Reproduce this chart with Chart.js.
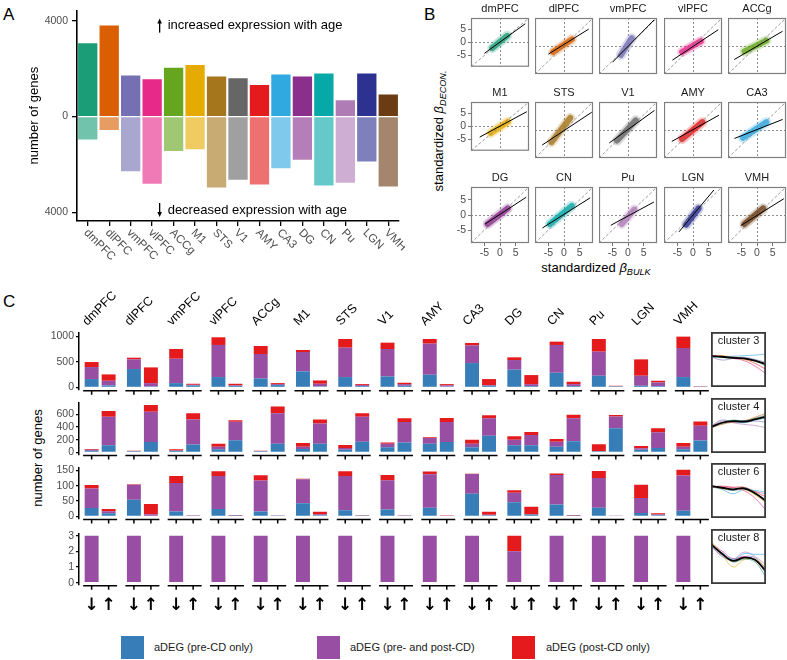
<!DOCTYPE html>
<html>
<head>
<meta charset="utf-8">
<script src="https://cdn.jsdelivr.net/npm/chart.js@4.4.1/dist/chart.umd.min.js"></script>
<style>
  body { margin: 0; background: #fff; font-family: "Liberation Sans", Arial, sans-serif; }
  #wrap { position: relative; width: 787px; height: 660px; overflow: hidden; }
  canvas { position: absolute; }
  .txt { position: absolute; white-space: nowrap; color: #000; line-height: 1; }
  .panel { font-size: 17px; }
  .rot { transform: translate(-50%, -50%) rotate(-90deg); }
  .mid { transform: translate(-50%, -50%); }
  .key { position: absolute; width: 23px; height: 23px; }
  .keytxt { position: absolute; font-size: 11px; color: #1a1a1a; line-height: 1; transform: translateY(-50%); white-space: nowrap; }
  sub { font-size: 70%; font-style: italic; vertical-align: -0.3em; }
</style>
</head>
<body>
<div id="wrap">
  <div class="txt panel" style="left:3px; top:6px;">A</div>
  <div class="txt panel" style="left:424px; top:6px;">B</div>
  <div class="txt panel" style="left:3px; top:293px;">C</div>

  <div class="txt rot" style="left:440px; top:131px; font-size:13px;">standardized <i>β</i><sub>DECON.</sub></div>
  <div class="txt mid" style="left:596px; top:269px; font-size:13px;">standardized <i>β</i><sub>BULK</sub></div>
  <div class="txt rot" style="left:37px; top:458px; font-size:13px;">number of genes</div>

  <div class="key" style="left:121px; top:636px; background:#377eb8;"></div>
  <div class="keytxt" style="left:154px; top:647px;">aDEG (pre-CD only)</div>
  <div class="key" style="left:317px; top:636px; background:#984ea3;"></div>
  <div class="keytxt" style="left:350px; top:647px;">aDEG (pre- and post-CD)</div>
  <div class="key" style="left:512px; top:636px; background:#e41a1c;"></div>
  <div class="keytxt" style="left:546px; top:647px;">aDEG (post-CD only)</div>
</div>
<script>
// regions and their colours
const regions = ["dmPFC", "dlPFC", "vmPFC", "vlPFC", "ACCg", "M1", "STS", "V1", "AMY", "CA3", "DG", "CN", "Pu", "LGN", "VMH"];
const regionColors = ["#1b9e77", "#d95f02", "#7570b3", "#e7298a", "#66a61e", "#e6ab02", "#a6761d", "#666666",
                      "#e41a1c", "#30a8e0", "#8a2f8c", "#06a8a8", "#b07cb6", "#2d3291", "#6b3c14"];

// panel A: genes up / down with age
const nUp   = [3060, 3800, 1720, 1560, 2040, 2160, 1680, 1600, 1320, 1760, 1680, 1800, 680, 1800, 920];
const nDown = [960, 560, 2280, 2800, 1440, 1360, 2960, 2640, 2840, 2160, 1800, 2880, 2760, 1880, 2920];
const aTicks = [-4000, 0, 4000];

// panel B: point cloud ends and fitted line ends, [x, y]
const cloudFrom = [[-2.5, -2.2], [-3.5, -2], [-2.3, -3], [-3.5, -2], [-4, -1.8], [-3, -2.6], [-4, -4], [-3.5, -3.5],
                   [-3.5, -3], [-4.5, -2.6], [-4, -3], [-4.5, -3], [-2, -3], [-2.2, -3.2], [-4, -3]];
const cloudTo   = [[2.3, 2.5], [2.5, 2.2], [1.2, 2.6], [2.5, 1.6], [3, 1.8], [2.5, 1.8], [2, 4], [2.5, 3.2],
                   [3, 2.6], [3, 2.6], [2.5, 2.2], [2.5, 3], [2, 1.8], [1.8, 2.2], [2, 2.2]];
const fitFrom   = [[-5, -4.2], [-5, -2.7], [-5, -5.4], [-6.6, -4.7], [-7.3, -4.5], [-6.5, -4.1], [-7, -5], [-6, -4.3],
                   [-6.8, -3.8], [-7.2, -2.8], [-4.8, -3], [-6.9, -4.3], [-5.5, -3.4], [-4.5, -5.6], [-5.2, -3.5]];
const fitTo     = [[8.1, 7.1], [7.9, 5.6], [8.4, 8.7], [8.1, 5.4], [8.2, 4.9], [8.6, 5.6], [8.9, 5.9], [8.5, 6.5],
                   [8.3, 4.9], [8.2, 3.5], [8.4, 5.9], [8.4, 5.7], [8.3, 4.3], [6.7, 8.3], [8.6, 5.4]];
const bTicks = [-5, 0, 5];

// panel C: aDEG counts, down (↓) and up (↑) with age
// cluster 3
const c3DownPre  = [164, 360, 85, 203, 177, 314, 203, 216, 249, 477, 347, 288, 229, 33, 203];
const c3DownBoth = [235, 189, 477, 628, 477, 379, 575, 536, 608, 347, 189, 543, 471, 196, 569];
const c3DownPost = [98, 33, 190, 150, 157, 39, 170, 124, 91, 46, 53, 65, 248, 320, 222];
const c3UpPre    = [39, 20, 39, 30, 46, 20, 26, 33, 20, 33, 26, 26, 20, 26, 10];
const c3UpBoth   = [92, 65, 13, 10, 19, 52, 20, 32, 19, 13, 39, 39, 6, 72, 5];
const c3UpPost   = [124, 307, 20, 32, 20, 65, 19, 27, 26, 118, 177, 46, 7, 33, 5];
// cluster 4
const c4DownPre  = [24, 15, 20, 49, 15, 54, 39, 78, 137, 78, 112, 88, 15, 39, 49];
const c4DownBoth = [15, 5, 9, 39, 5, 34, 29, 59, 87, 59, 88, 78, 5, 24, 39];
const c4DownPost = [15, 4, 20, 49, 4, 58, 49, 19, 15, 63, 54, 44, 107, 35, 58];
const c4UpPre    = [112, 161, 122, 190, 137, 137, 166, 156, 161, 263, 112, 176, 380, 68, 185];
const c4UpBoth   = [449, 479, 395, 293, 478, 317, 395, 322, 317, 274, 161, 361, 186, 249, 235];
const c4UpPost   = [93, 106, 100, 24, 108, 63, 54, 59, 63, 48, 49, 58, 24, 63, 68];
// cluster 6
const c6DownPre  = [27, 54, 16, 24, 16, 43, 20, 22, 28, 74, 46, 39, 28, 11, 18];
const c6DownBoth = [64, 49, 93, 108, 101, 78, 112, 96, 109, 64, 31, 96, 97, 49, 115];
const c6DownPost = [11, 2, 23, 15, 17, 2, 15, 17, 9, 1, 8, 5, 23, 43, 19];
const c6UpPre    = [10, 2, 2, 1, 3, 4, 1, 2, 0, 4, 6, 1, 2, 4, 0];
const c6UpBoth   = [7, 5, 2, 2, 1, 3, 1, 2, 1, 1, 0, 1, 1, 2, 0];
const c6UpPost   = [7, 33, 0, 1, 0, 8, 1, 0, 1, 10, 25, 2, 0, 4, 2];
// cluster 8
const c8DownPre  = [0, 0, 0, 0, 0, 0, 0, 0, 0, 0, 0, 0, 0, 0, 0];
const c8DownBoth = [3, 3, 3, 3, 3, 3, 3, 3, 3, 3, 2, 3, 3, 3, 3];
const c8DownPost = [0, 0, 0, 0, 0, 0, 0, 0, 0, 0, 1, 0, 0, 0, 0];
const c8UpPre    = [0, 0, 0, 0, 0, 0, 0, 0, 0, 0, 0, 0, 0, 0, 0];
const c8UpBoth   = [0, 0, 0, 0, 0, 0, 0, 0, 0, 0, 0, 0, 0, 0, 0];
const c8UpPost   = [0, 0, 0, 0, 0, 0, 0, 0, 0, 0, 0, 0, 0, 0, 0];

const rowTicks = [[0, 250, 500, 750, 1000], [0, 200, 400, 600], [0, 50, 100, 150], [0, 1, 2, 3]];
const rowLimits = [[-50, 1065], [-38, 790], [-7.6, 160], [-0.15, 3.15]];

// cluster trajectories (scaled expression across age)
const trajX = [0, 1, 2, 3, 4, 5];
const clusterNames = ["cluster 3", "cluster 4", "cluster 6", "cluster 8"];
const c3Mean = [0.56, 0.55, 0.53, 0.52, 0.48, 0.41];
const c3Lines = { vlPFC: [0.57, 0.56, 0.52, 0.48, 0.38, 0.24], CA3: [0.54, 0.55, 0.56, 0.57, 0.58, 0.60],
                  dmPFC: [0.58, 0.54, 0.52, 0.52, 0.47, 0.38], vmPFC: [0.55, 0.49, 0.52, 0.54, 0.50, 0.45],
                  M1: [0.56, 0.57, 0.54, 0.50, 0.47, 0.43], AMY: [0.57, 0.55, 0.55, 0.51, 0.43, 0.32] };
const c4Mean = [0.47, 0.55, 0.58, 0.57, 0.61, 0.66];
const c4Lines = { dlPFC: [0.46, 0.52, 0.56, 0.58, 0.65, 0.72], Pu: [0.48, 0.58, 0.55, 0.52, 0.50, 0.46],
                  CA3: [0.48, 0.53, 0.57, 0.55, 0.60, 0.63], dmPFC: [0.46, 0.54, 0.60, 0.58, 0.63, 0.69],
                  vmPFC: [0.49, 0.60, 0.56, 0.56, 0.58, 0.56], LGN: [0.47, 0.55, 0.58, 0.59, 0.62, 0.66] };
const c6Mean = [0.58, 0.55, 0.52, 0.54, 0.45, 0.31];
const c6Lines = { vlPFC: [0.56, 0.56, 0.55, 0.50, 0.36, 0.14], CA3: [0.57, 0.52, 0.44, 0.52, 0.50, 0.47],
                  dmPFC: [0.59, 0.55, 0.50, 0.55, 0.44, 0.33], M1: [0.57, 0.53, 0.52, 0.52, 0.42, 0.28],
                  AMY: [0.56, 0.58, 0.56, 0.56, 0.48, 0.38], Pu: [0.60, 0.54, 0.50, 0.52, 0.48, 0.44] };
const c8Mean = [0.72, 0.55, 0.42, 0.48, 0.44, 0.23];
const c8Lines = { CA3: [0.70, 0.57, 0.45, 0.55, 0.54, 0.54], M1: [0.78, 0.55, 0.31, 0.44, 0.45, 0.30],
                  Pu: [0.68, 0.52, 0.45, 0.58, 0.50, 0.35], vlPFC: [0.74, 0.60, 0.46, 0.50, 0.43, 0.20],
                  dmPFC: [0.75, 0.56, 0.40, 0.45, 0.40, 0.12], vmPFC: [0.70, 0.50, 0.43, 0.50, 0.48, 0.28] };

const setBlue = "#377eb8", setPurple = "#984ea3", setRed = "#e41a1c";

// chart defaults
Chart.defaults.font.family = "'Liberation Sans', Arial, sans-serif";
Chart.defaults.color = "#4d4d4d";
Chart.defaults.animation = false;
Chart.defaults.responsive = false;
Chart.defaults.devicePixelRatio = 1;
Chart.defaults.plugins.legend.display = false;
Chart.defaults.plugins.tooltip.enabled = false;

const wrap = document.getElementById("wrap");
function addCanvas(left, top, w, h) {
    let c = document.createElement("canvas");
    c.width = w; c.height = h;
    c.style.left = left + "px"; c.style.top = top + "px";
    c.style.width = w + "px"; c.style.height = h + "px";
    wrap.appendChild(c);
    return c.getContext("2d");
}
// lighten a hex colour towards white
function fade(hex, a) {
    let n = parseInt(hex.slice(1), 16);
    let mix = v => Math.round(v * a + 255 * (1 - a));
    return "rgb(" + mix(n >> 16) + "," + mix((n >> 8) & 255) + "," + mix(n & 255) + ")";
}
function alpha(hex, a) {
    let n = parseInt(hex.slice(1), 16);
    return "rgba(" + (n >> 16) + "," + ((n >> 8) & 255) + "," + (n & 255) + "," + a + ")";
}
const fixTicks = vals => scale => { scale.ticks = vals.map(v => ({ value: v })); };
const pt = p => ({ x: p[0], y: p[1] });

//---------------- panel A ----------------
const panelANotes = {
    id: "panelANotes",
    afterDraw(chart) {
        let { ctx, scales: { x, y } } = chart;
        ctx.save();
        // rotated region labels
        ctx.fillStyle = "#4d4d4d";
        ctx.font = "11.5px 'Liberation Sans', Arial, sans-serif";
        ctx.textAlign = "left";
        ctx.textBaseline = "middle";
        regions.forEach((r, i) => {
            ctx.save();
            ctx.translate(x.getPixelForValue(i) - 2, 231);
            ctx.rotate(Math.PI / 4);
            ctx.fillText(r, 0, 0);
            ctx.restore();
        });
        // arrows with notes
        let ax = x.getPixelForValue(3.35);
        let notes = [[y.getPixelForValue(3800), -1, "increased expression with age"],
                     [y.getPixelForValue(-3900), 1, "decreased expression with age"]];
        ctx.fillStyle = "#000";
        ctx.strokeStyle = "#000";
        ctx.lineWidth = 1.3;
        ctx.font = "13px 'Liberation Sans', Arial, sans-serif";
        notes.forEach(([yc, dir, text]) => {
            ctx.beginPath();
            ctx.moveTo(ax, yc - 7 * dir);
            ctx.lineTo(ax, yc + 3 * dir);
            ctx.stroke();
            ctx.beginPath();
            ctx.moveTo(ax, yc + 7 * dir);
            ctx.lineTo(ax - 2.3, yc + 2 * dir);
            ctx.lineTo(ax + 2.3, yc + 2 * dir);
            ctx.closePath();
            ctx.fill();
            ctx.fillText(text, ax + 8, yc);
        });
        ctx.restore();
    }
};

new Chart(addCanvas(0, 0, 405, 285), {
    type: "bar",
    data: {
        labels: regions,
        datasets: [
            { data: nUp, backgroundColor: regionColors },
            { data: nDown.map(v => -v), backgroundColor: regionColors.map(c => fade(c, 0.62)) }
        ]
    },
    options: {
        layout: { padding: { top: 1, right: 6, bottom: 0, left: 0 } },
        datasets: { bar: { categoryPercentage: 0.9, barPercentage: 1 } },
        scales: {
            x: {
                stacked: true,
                ticks: { display: false },
                grid: { drawOnChartArea: false, offset: false, tickLength: 5, color: "#000", lineWidth: 1.3 },
                border: { color: "#000", width: 1.6 },
                afterFit: s => { s.height = 64; }
            },
            y: {
                stacked: true, min: -4360, max: 4440,
                afterBuildTicks: fixTicks(aTicks),
                ticks: { callback: v => String(Math.abs(v)), font: { size: 10.5 }, padding: 4 },
                grid: { drawOnChartArea: false, tickLength: 5, color: "#000", lineWidth: 1.3 },
                border: { color: "#000", width: 1.6 },
                title: { display: true, text: "number of genes", color: "#000", font: { size: 13 }, padding: { top: 27, bottom: 0 } },
                afterFit: s => { s.width = 77; }
            }
        }
    },
    plugins: [panelANotes]
});

//---------------- panel B ----------------
// grey frame round the plot and the region name above it
const boxFrame = {
    id: "boxFrame",
    afterDatasetsDraw(chart, args, opts) {
        let { ctx, chartArea: a } = chart;
        ctx.save();
        ctx.strokeStyle = "#7f7f7f";
        ctx.lineWidth = 1.2;
        ctx.strokeRect(a.left + 0.5, a.top + 0.5, a.width - 1, a.height - 1);
        ctx.fillStyle = "#1a1a1a";
        ctx.font = "11px 'Liberation Sans', Arial, sans-serif";
        ctx.textAlign = "center";
        ctx.textBaseline = "middle";
        ctx.fillText(opts.name, (a.left + a.right) / 2, a.top - 9);
        ctx.restore();
    }
};
const zeroGrid = c => (c.tick && c.tick.value === 0) ? "#808080" : "rgba(0,0,0,0)";
const colL = [471, 535, 599, 664, 728];
const rowT = [18, 102, 187];
regions.forEach((name, i) => {
    let r = Math.floor(i / 5), c = i % 5;
    let yw = c === 0 ? 22 : 0, xh = r === 2 ? 14 : 0;
    let ctx = addCanvas(colL[c] - yw, rowT[r] - 17, 58 + yw + 1, 17 + 56 + xh + 1);
    let col = regionColors[i];
    new Chart(ctx, {
        type: "scatter",
        data: {
            datasets: [
                { data: [pt(fitFrom[i]), pt(fitTo[i])], showLine: true, borderColor: "#000", borderWidth: 1, pointRadius: 0 },
                { data: [pt([-9.3, -9.3]), pt([9.3, 9.3])], showLine: true, borderColor: "#808080", borderWidth: 0.8, borderDash: [3, 2], pointRadius: 0 },
                { data: [pt(cloudFrom[i]), pt(cloudTo[i])], showLine: true, borderColor: alpha(col, 0.8), borderWidth: 6, borderCapStyle: "round", pointRadius: 0 },
                { data: [pt(cloudFrom[i]), pt(cloudTo[i])], showLine: true, borderColor: alpha(col, 0.25), borderWidth: 10, borderCapStyle: "round", pointRadius: 0 }
            ]
        },
        options: {
            layout: { padding: { top: 17, right: 1, bottom: 1, left: 0 } },
            plugins: { boxFrame: { name: name } },
            scales: {
                x: {
                    min: -9.3, max: 9.3,
                    afterBuildTicks: fixTicks(bTicks),
                    ticks: { display: r === 2, font: { size: 10.5 }, padding: 1 },
                    grid: { color: zeroGrid, lineWidth: 0.9, drawTicks: r === 2, tickLength: 3, tickColor: "#666" },
                    border: { display: false, dash: [2, 2] },
                    afterFit: s => { s.height = xh; }
                },
                y: {
                    min: -9.3, max: 9.3,
                    afterBuildTicks: fixTicks(bTicks),
                    ticks: { display: c === 0, font: { size: 10.5 }, padding: 2 },
                    grid: { color: zeroGrid, lineWidth: 0.9, drawTicks: c === 0, tickLength: 3, tickColor: "#666" },
                    border: { display: false, dash: [2, 2] },
                    afterFit: s => { s.width = yw; }
                }
            }
        },
        plugins: [boxFrame]
    });
});

//---------------- panel C ----------------
const facetAxis = {
    id: "facetAxis",
    afterDraw(chart, args, opts) {
        let { ctx, chartArea: a, scales: { x } } = chart;
        let down = chart.getDatasetMeta(0).data, up = chart.getDatasetMeta(3).data;
        let half = x.width / regions.length * 0.804 / 2;
        let yb = a.bottom + 0.75;
        ctx.save();
        ctx.strokeStyle = "#000";
        ctx.lineWidth = 1.5;
        regions.forEach((r, i) => {
            let cx = x.getPixelForValue(i);
            ctx.beginPath();
            ctx.moveTo(cx - half, yb);
            ctx.lineTo(cx + half, yb);
            ctx.moveTo(down[i].x, yb);
            ctx.lineTo(down[i].x, yb + 4);
            ctx.moveTo(up[i].x, yb);
            ctx.lineTo(up[i].x, yb + 4);
            ctx.stroke();
        });
        ctx.fillStyle = "#000";
        if (opts.top) {
            ctx.font = "12.5px 'Liberation Sans', Arial, sans-serif";
            ctx.textAlign = "left";
            ctx.textBaseline = "alphabetic";
            regions.forEach((r, i) => {
                ctx.save();
                ctx.translate(x.getPixelForValue(i) - 13, a.top - 7);
                ctx.rotate(-Math.PI / 4);
                ctx.fillText(r, 0, 0);
                ctx.restore();
            });
        }
        if (opts.arrows) {
            ctx.font = "bold 17px 'DejaVu Sans', sans-serif";
            ctx.textAlign = "center";
            ctx.textBaseline = "middle";
            regions.forEach((r, i) => {
                ctx.fillText("↓", down[i].x, a.bottom + 21);
                ctx.fillText("↑", up[i].x, a.bottom + 21);
            });
        }
        ctx.restore();
    }
};

const rows = [
    [c3DownPre, c3DownBoth, c3DownPost, c3UpPre, c3UpBoth, c3UpPost],
    [c4DownPre, c4DownBoth, c4DownPost, c4UpPre, c4UpBoth, c4UpPost],
    [c6DownPre, c6DownBoth, c6DownPost, c6UpPre, c6UpBoth, c6UpPost],
    [c8DownPre, c8DownBoth, c8DownPost, c8UpPre, c8UpBoth, c8UpPost]
];
// canvas top, top padding, plot height, bottom padding
const rowBoxes = [[290, 43, 57, 10], [394, 4, 57, 8], [459, 4, 56, 8], [525, 4, 56, 34]];
const fills = [setBlue, setPurple, setRed];

rows.forEach((vals, r) => {
    let [top, pt0, h, pb] = rowBoxes[r];
    new Chart(addCanvas(0, top, 720, pt0 + h + pb), {
        type: "bar",
        data: {
            labels: regions,
            datasets: vals.map((v, k) => ({
                data: v, backgroundColor: fills[k % 3], stack: k < 3 ? "down" : "up"
            }))
        },
        options: {
            layout: { padding: { top: pt0, right: 7, bottom: pb, left: 0 } },
            datasets: { bar: { categoryPercentage: 0.804, barPercentage: 0.82 } },
            plugins: { facetAxis: { top: r === 0, arrows: r === 3 } },
            scales: {
                x: { display: false, stacked: true },
                y: {
                    stacked: true, min: rowLimits[r][0], max: rowLimits[r][1],
                    afterBuildTicks: fixTicks(rowTicks[r]),
                    ticks: { callback: v => String(v), font: { size: 10.5 }, padding: 2 },
                    grid: { drawOnChartArea: false, tickLength: 3, color: "#000", lineWidth: 1.3 },
                    border: { color: "#000", width: 1.5 },
                    afterFit: s => { s.width = 79; }
                }
            }
        },
        plugins: [facetAxis]
    });
});

//---------------- cluster insets ----------------
const insetFrame = {
    id: "insetFrame",
    afterDraw(chart, args, opts) {
        let { ctx, width, height } = chart;
        ctx.save();
        ctx.strokeStyle = "#3a3a3a";
        ctx.lineWidth = 1.8;
        ctx.strokeRect(0.9, 0.9, width - 1.8, height - 1.8);
        ctx.fillStyle = "#1a1a1a";
        ctx.font = "11px 'Liberation Sans', Arial, sans-serif";
        ctx.textAlign = "center";
        ctx.textBaseline = "middle";
        ctx.fillText(opts.name, width / 2, 9);
        ctx.restore();
    }
};
const clusterMeans = [c3Mean, c4Mean, c6Mean, c8Mean];
const clusterLines = [c3Lines, c4Lines, c6Lines, c8Lines];
const insetTops = [332, 398, 463, 529];
clusterNames.forEach((name, k) => {
    let sets = Object.keys(clusterLines[k]).map(reg => ({
        data: clusterLines[k][reg],
        borderColor: alpha(regionColors[regions.indexOf(reg)], 0.75),
        borderWidth: 0.8
    }));
    sets.unshift({ data: clusterMeans[k], borderColor: "#000", borderWidth: 1.8 });
    new Chart(addCanvas(711, insetTops[k], 55, 55), {
        type: "line",
        data: { labels: trajX, datasets: sets },
        options: {
            layout: { padding: 0 },
            elements: { point: { radius: 0 }, line: { tension: 0.4 } },
            plugins: { insetFrame: { name: name } },
            scales: {
                x: { display: false },
                y: { display: false, min: 0, max: 1 }
            }
        },
        plugins: [insetFrame]
    });
});
</script>
</body>
</html>
